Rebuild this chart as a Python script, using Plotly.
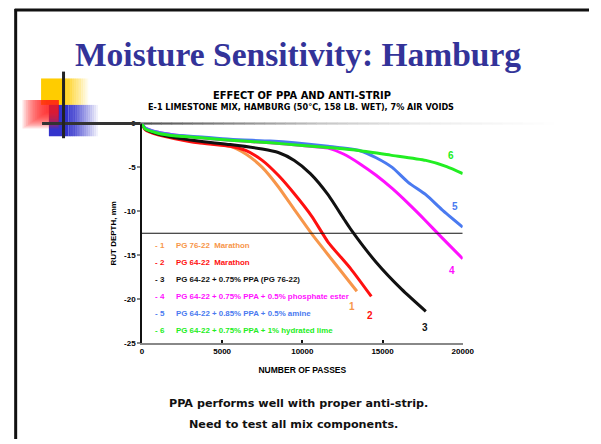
import plotly.graph_objects as go

W, H = 601, 444

# ---------------- data ----------------
series_names = [
    "PG 76-22  Marathon",
    "PG 64-22  Marathon",
    "PG 64-22 + 0.75% PPA (PG 76-22)",
    "PG 64-22 + 0.75% PPA + 0.5% phosphate ester",
    "PG 64-22 + 0.85% PPA + 0.5% amine",
    "PG 64-22 + 0.75% PPA + 1% hydrated lime",
]
series_colors = ["#F7964A", "#FF1010", "#111111", "#FF10FF", "#4A7AF0", "#22EE22"]

x1 = [0, 200, 1000, 2000, 3500, 5500, 6500, 7500, 8500, 9500, 10600, 11800, 13400]
y1 = [0, -0.6, -1.2, -1.6, -2.1, -2.6, -3.5, -5.0, -7.2, -9.8, -12.6, -15.4, -19.1]

x2 = [0, 200, 1000, 2000, 3500, 5500, 6500, 7500, 8500, 9500, 10600, 11600, 13000, 14300]
y2 = [0, -0.7, -1.3, -1.7, -2.2, -2.6, -3.1, -4.2, -5.9, -8.0, -10.6, -13.5, -16.5, -19.7]

x3 = [0, 200, 1000, 2000, 3500, 5500, 7500, 8500, 9500, 10500, 11600, 12600, 13000, 14600, 16200, 17700]
y3 = [0, -0.6, -1.2, -1.6, -2.0, -2.4, -2.9, -3.3, -4.2, -5.7, -8.1, -10.9, -12.0, -15.8, -18.9, -21.4]

x4 = [0, 200, 1000, 2000, 3500, 5500, 8000, 10000, 11600, 12600, 13600, 14600, 15600, 16600, 17700, 18700, 20000]
y4 = [0, -0.5, -1.0, -1.3, -1.6, -1.9, -2.2, -2.5, -2.8, -3.5, -4.6, -5.9, -7.4, -9.1, -11.1, -13.0, -15.4]

x5 = [0, 200, 1000, 2000, 3500, 5500, 8000, 9500, 11600, 13600, 14600, 15600, 16600, 17700, 18700, 20000]
y5 = [0, -0.5, -1.0, -1.3, -1.5, -1.8, -2.0, -2.2, -2.6, -3.1, -3.9, -5.0, -6.7, -8.1, -9.8, -11.8]

x6 = [0, 200, 1000, 2000, 3500, 5500, 8000, 10000, 12000, 13600, 15500, 17700, 19000, 20000]
y6 = [0, -0.6, -1.1, -1.4, -1.6, -1.9, -2.2, -2.5, -2.8, -3.1, -3.6, -4.2, -4.9, -5.7]

series_x = [x1, x2, x3, x4, x5, x6]
series_y = [y1, y2, y3, y4, y5, y6]

# end-of-curve number labels (data coords)
label_x = [13090, 14250, 17660, 19340, 19530, 19290]
label_y = [-20.8, -21.9, -23.2, -16.7, -9.5, -3.6]

threshold_x = [0, 20000]
threshold_y = [-12.5, -12.5]

x_ticks = [0, 5000, 10000, 15000, 20000]
y_ticks = [0, -5, -10, -15, -20, -25]

title_text = "Moisture Sensitivity: Hamburg"
chart_title1 = "EFFECT OF PPA AND ANTI-STRIP"
chart_title2 = "E-1 LIMESTONE MIX, HAMBURG (50°C, 158 LB. WET), 7% AIR VOIDS"
bottom_text1 = "PPA performs well with proper anti-strip."
bottom_text2 = "Need to test all mix components."

# ---------------- helpers ----------------
def px(x):
    return x / W

def py(y):
    return 1 - y / H

AX_L, AX_R, AX_T, AX_B = 143.3, 471.7, 122, 346

fig = go.Figure()

for i in range(6):
    fig.add_trace(go.Scatter(
        x=series_x[i], y=series_y[i], mode="lines",
        line=dict(color=series_colors[i], width=3, shape="spline", smoothing=0.6),
        showlegend=False, hoverinfo="skip"))

fig.add_trace(go.Scatter(x=threshold_x, y=threshold_y, mode="lines",
                         line=dict(color="#111111", width=1.2),
                         showlegend=False, hoverinfo="skip"))

shapes = []
annotations = []

def rect(x0, y0, x1_, y1_, color, opacity=1.0):
    shapes.append(dict(type="rect", xref="paper", yref="paper",
                       x0=px(x0), x1=px(x1_), y0=py(y1_), y1=py(y0),
                       fillcolor=color, opacity=opacity, line=dict(width=0), layer="above"))

def hgrad(x0, x1_, y0, y1_, color, solid_to, steps=14):
    rect(x0, y0, solid_to, y1_, color)
    w = (x1_ - solid_to) / steps
    for k in range(steps):
        rect(solid_to + k * w, y0, solid_to + (k + 1) * w + 0.3, y1_, color,
             opacity=max(0.0, 1 - (k + 1) / (steps + 1)))

# decorative squares
hgrad(40, 88, 76, 103, "#FFCC00", 62)
hgrad(48, 98, 103, 135, "#3333CC", 68)
# red square: strongest at top-right, fading toward bottom-left
steps = 14
for k in range(steps):
    f = k / steps
    rect(21 + (58 - 21) * f * 0.7, 98, 58, 98 + (127 - 98) * (1 - f * 0.6), "#FF1A1A", opacity=0.12)

# gradient horizontal rule at y=122
shapes.append(dict(type="line", xref="paper", yref="paper", x0=px(41), x1=px(142),
                   y0=py(122), y1=py(122), line=dict(color="#333333", width=3), layer="above"))
stops = [(142, 0x50), (230, 0x88), (330, 0xC8), (430, 0xEC), (565, 0xFF)]
nseg = 40
for k in range(nseg):
    xa = 142 + (565 - 142) * k / nseg
    xb = 142 + (565 - 142) * (k + 1) / nseg
    xm = (xa + xb) / 2
    for j in range(len(stops) - 1):
        if stops[j][0] <= xm <= stops[j + 1][0]:
            t = (xm - stops[j][0]) / (stops[j + 1][0] - stops[j][0])
            g = int(stops[j][1] + (stops[j + 1][1] - stops[j][1]) * t)
    shapes.append(dict(type="line", xref="paper", yref="paper", x0=px(xa), x1=px(xb + 0.5),
                       y0=py(122), y1=py(122),
                       line=dict(color=f"rgb({g},{g},{g})", width=2.2), layer="below"))
# vertical black line of decoration
shapes.append(dict(type="line", xref="paper", yref="paper", x0=px(63), x1=px(63),
                   y0=py(69), y1=py(137), line=dict(color="#222222", width=3), layer="above"))

# slide frame
shapes.append(dict(type="line", xref="paper", yref="paper", x0=px(14), x1=px(14),
                   y0=py(5), y1=py(444), line=dict(color="#111111", width=3), layer="above"))
shapes.append(dict(type="line", xref="paper", yref="paper", x0=px(13), x1=px(601),
                   y0=py(6), y1=py(6), line=dict(color="#111111", width=3), layer="above"))

# title
annotations.append(dict(text=f"<b>{title_text}</b>", xref="paper", yref="paper",
                        x=px(303), y=py(52), showarrow=False, xanchor="center", yanchor="middle",
                        font=dict(family="Liberation Serif", size=33.5, color="#333399")))
annotations.append(dict(text=f"<b>{chart_title1}</b>", xref="paper", yref="paper",
                        x=px(307.5), y=py(93.3), showarrow=False, xanchor="center", yanchor="middle",
                        font=dict(family="DejaVu Sans", size=9.9, color="#000")))
annotations.append(dict(text=f"<b>{chart_title2}</b>", xref="paper", yref="paper",
                        x=px(306.5), y=py(105.5), showarrow=False, xanchor="center", yanchor="middle",
                        font=dict(family="DejaVu Sans", size=8.1, color="#000")))
annotations.append(dict(text=f"<b>{bottom_text1}</b>", xref="paper", yref="paper",
                        x=px(304), y=py(407.5), showarrow=False, xanchor="center", yanchor="middle",
                        font=dict(family="DejaVu Sans", size=11.2, color="#111")))
annotations.append(dict(text=f"<b>{bottom_text2}</b>", xref="paper", yref="paper",
                        x=px(298), y=py(429), showarrow=False, xanchor="center", yanchor="middle",
                        font=dict(family="DejaVu Sans", size=11.2, color="#111")))

# legend text
legend_y_px = [246, 263.5, 281, 299, 316, 333.5]
for i in range(6):
    annotations.append(dict(text=f"<b>- {i+1}</b>", xref="paper", yref="paper",
                            x=px(155), y=py(legend_y_px[i]), showarrow=False,
                            xanchor="left", yanchor="middle",
                            font=dict(family="Liberation Sans", size=8, color=series_colors[i])))
    annotations.append(dict(text=f"<b>{series_names[i]}</b>", xref="paper", yref="paper",
                            x=px(176), y=py(legend_y_px[i]), showarrow=False,
                            xanchor="left", yanchor="middle",
                            font=dict(family="Liberation Sans", size=7.9, color=series_colors[i])))

# curve number labels
for i in range(6):
    annotations.append(dict(text=f"<b>{i+1}</b>", xref="x", yref="y",
                            x=label_x[i], y=label_y[i], showarrow=False,
                            font=dict(family="Liberation Sans", size=10, color=series_colors[i])))

fig.update_layout(
    width=W, height=H, autosize=False,
    margin=dict(l=0, r=0, t=0, b=0),
    paper_bgcolor="white", plot_bgcolor="white",
    shapes=shapes, annotations=annotations,
    xaxis=dict(domain=[px(AX_L), px(AX_R)], range=[0, 20000], tickvals=x_ticks,
               ticktext=[f"<b>{v}</b>" for v in x_ticks], showgrid=False, zeroline=False,
               showline=True, linecolor="#888888", linewidth=1.5,
               ticks="inside", ticklen=3, tickcolor="#111", tickwidth=1.5,
               tickfont=dict(family="Liberation Sans", size=8, color="#000"),
               title=dict(text="<b>NUMBER OF PASSES</b>", standoff=12,
                          font=dict(family="Liberation Sans", size=8.5, color="#000"))),
    yaxis=dict(domain=[py(AX_B), py(AX_T)], range=[-25, 0], tickvals=y_ticks,
               ticktext=[f"<b>{v}</b>" for v in y_ticks], showgrid=False, zeroline=False,
               showline=True, linecolor="#111111", linewidth=1.5,
               ticks="outside", ticklen=3, tickcolor="#888", tickwidth=1.5,
               tickfont=dict(family="Liberation Sans", size=8, color="#000"),
               title=dict(text="<b>RUT DEPTH, mm</b>", standoff=6,
                          font=dict(family="Liberation Sans", size=8, color="#000"))),
)

fig.write_html(
    "out.html",
    post_script="document.documentElement.style.margin='0';document.body.style.margin='0';",
    config={"displayModeBar": False},
)
